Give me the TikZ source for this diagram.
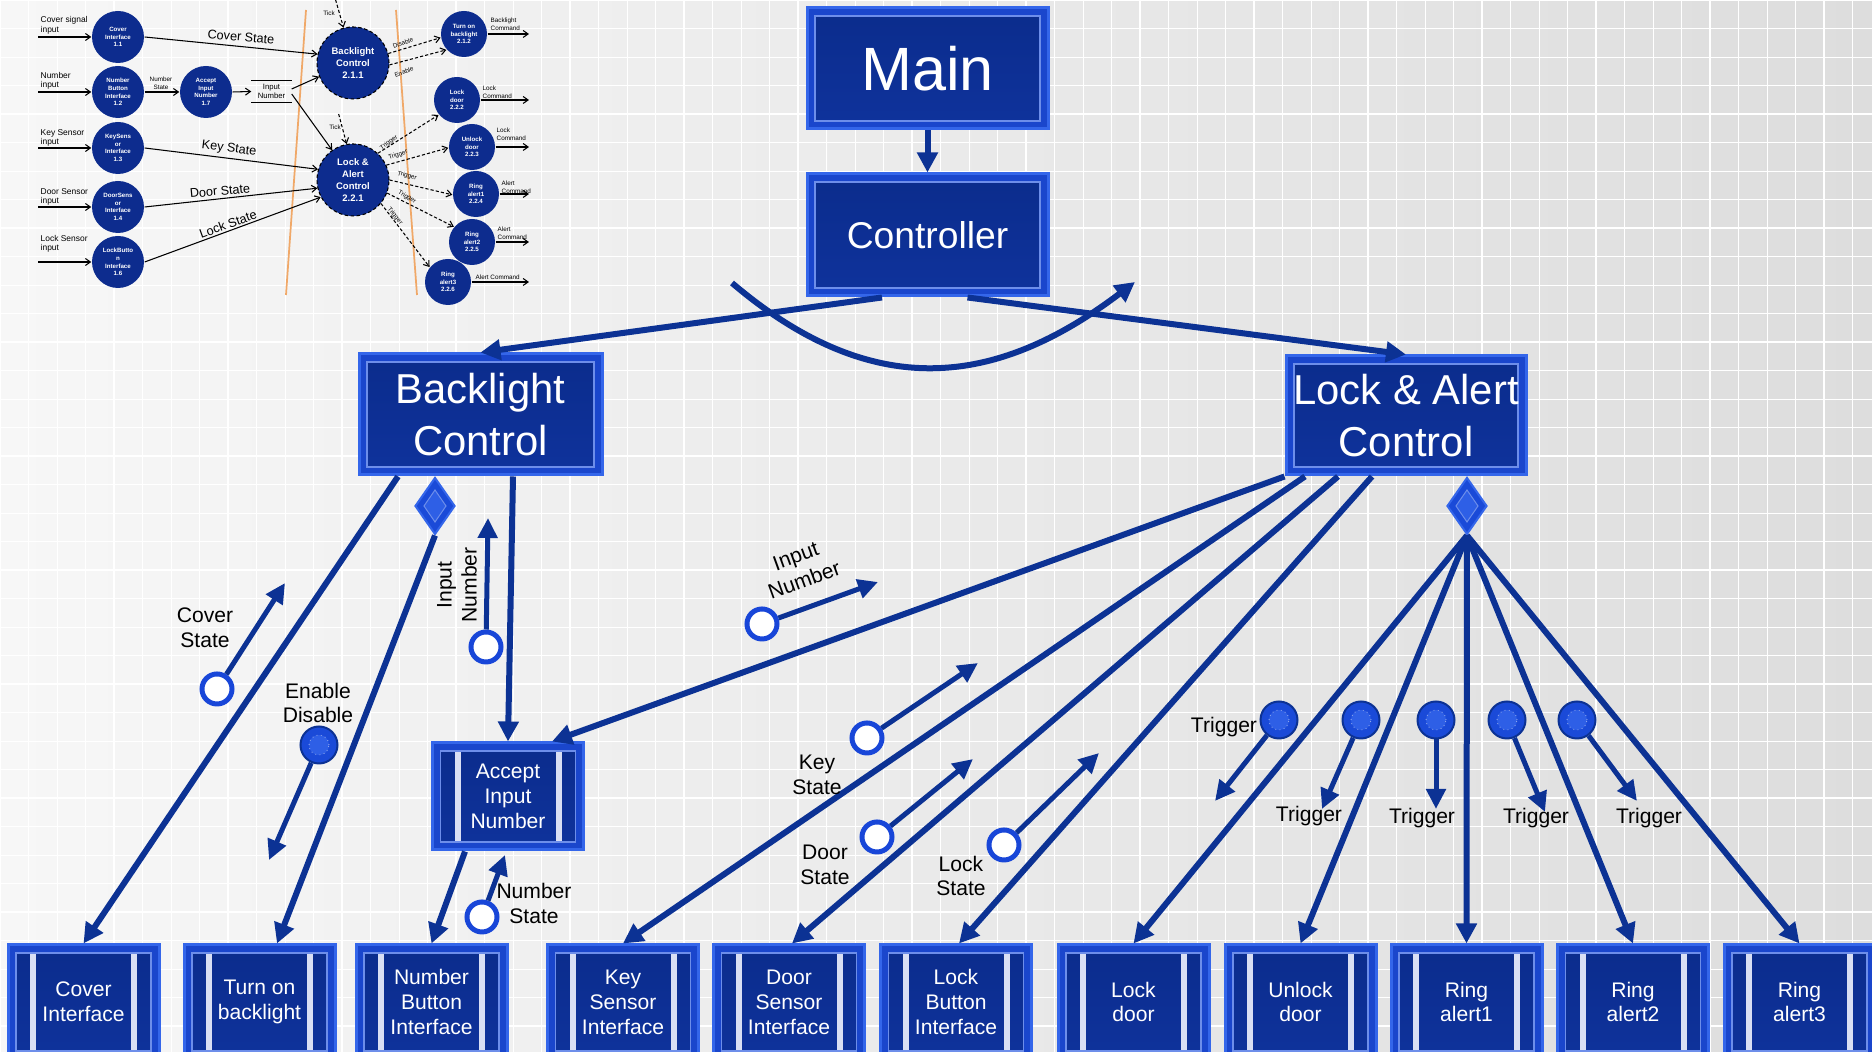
\documentclass[tikz,border=0pt]{standalone}
\usepackage{fontspec}
\setmainfont{Liberation Sans}
\usetikzlibrary{arrows.meta, shapes.geometric}
\definecolor{cwire}{HTML}{0C3294}
\definecolor{cedge}{HTML}{3466EA}
\definecolor{cbevel}{HTML}{1A46CC}
\definecolor{cdark}{HTML}{0B2C8C}
\definecolor{cinner}{HTML}{6D8EEA}
\definecolor{cbar}{HTML}{D9DFF4}
\definecolor{cring}{HTML}{1846D8}
\definecolor{cflag}{HTML}{1A4AD8}
\definecolor{cflagin}{HTML}{2E5FE6}
\definecolor{cbgl}{HTML}{F7F7F7}
\definecolor{cbgr}{HTML}{DDDDDD}
\definecolor{cnavy}{HTML}{0D2C8E}
\definecolor{corange}{HTML}{F0A868}
\newcommand{\bevelin}{\draw[cinner, line width=0.012cm, top color=cdark, bottom color=cdark!75!cbevel]
  ([shift={(0.08cm,-0.08cm)}]path picture bounding box.north west) rectangle ([shift={(-0.08cm,0.08cm)}]path picture bounding box.south east);}
\tikzset{
  bevel/.style={rectangle, draw=cedge, fill=cbevel, line width=0.03cm, text=white, align=center, inner sep=0pt, path picture={\bevelin}},
  procbox/.style={bevel, minimum width=1.51cm, minimum height=1.14cm, font=\fontsize{6}{7.1}\selectfont,
    path picture={\bevelin
      \fill[cbar] ([shift={(0.22cm,-0.09cm)}]path picture bounding box.north west) rectangle ([shift={(0.28cm,0.09cm)}]path picture bounding box.south west);
      \fill[cbar] ([shift={(-0.28cm,-0.09cm)}]path picture bounding box.north east) rectangle ([shift={(-0.22cm,0.09cm)}]path picture bounding box.south east);}},
  ringflag/.style={circle, draw=cring, fill=white, line width=0.05cm, minimum size=0.30cm, inner sep=0pt},
  ctrlflag/.style={circle, draw=cwire, fill=cflag, line width=0.02cm, minimum size=0.37cm, inner sep=0pt,
    path picture={\draw[white!60!cflag, densely dotted, line width=0.008cm, fill=cflagin] (path picture bounding box.center) circle[radius=0.1cm];}},
  dmd/.style={diamond, draw=cedge, fill=cflag, line width=0.02cm, minimum width=0.40cm, minimum height=0.57cm, inner sep=0pt,
    path picture={\draw[cinner, line width=0.01cm, fill=cflagin] ([yshift=0.16cm]path picture bounding box.center) -- ([xshift=0.11cm]path picture bounding box.center)
      -- ([yshift=-0.16cm]path picture bounding box.center) -- ([xshift=-0.11cm]path picture bounding box.center) -- cycle;}},
  wire/.style={draw=cwire, line width=0.06cm, -{Triangle[length=0.2cm, width=0.2cm]}},
  flow/.style={draw=cwire, line width=0.05cm, -{Triangle[length=0.2cm, width=0.19cm]}},
  lbl/.style={font=\fontsize{6}{7.1}\selectfont, align=center, inner sep=0pt},
}

\begin{document}
\begin{tikzpicture}[dfd/.style={circle, fill=cnavy, text=white, font=\bfseries\fontsize{1.75}{2.2}\selectfont, align=center, inner sep=0pt, minimum size=0.52cm},
  dfdbig/.style={dfd, minimum size=0.72cm, draw=black, line width=0.3pt, dash pattern=on 1pt off 0.7pt, font=\bfseries\fontsize{2.7}{3.4}\selectfont},
  dfdout/.style={dfd, minimum size=0.46cm},
  dfdarr/.style={line width=0.3pt, -{Straight Barb[length=0.05cm, width=0.07cm]}},
  dfddash/.style={dash pattern=on 0.9pt off 0.6pt},
  dfdtxt/.style={font=\fontsize{1.8}{2.2}\selectfont, inner sep=0pt, align=left},
  dfdin/.style={font=\fontsize{2.4}{2.7}\selectfont, inner sep=0pt, align=left, anchor=west},
  dfdflow/.style={font=\fontsize{3.6}{4}\selectfont, inner sep=0pt}]
  \useasboundingbox (0,0) rectangle (18.72,-10.52);
  \shade[left color=cbgl, right color=cbgr] (0,0) rectangle (18.72,-10.52);
  \draw[white, line width=0.25pt, step=0.285] (0,-10.52) grid (18.72,0);
  \draw[white, line width=0.7pt, step=1.14] (0,-10.52) grid (18.72,0);

  \foreach \n/\y/\t in {i11/-0.37/{Cover\\Interface\\1.1}, i12/-0.92/{Number\\Button\\Interface\\1.2}, i13/-1.48/{KeySens\\or\\Interface\\1.3},
                        i14/-2.07/{DoorSens\\or\\Interface\\1.4}, i16/-2.62/{LockButto\\n\\Interface\\1.6}}
    \node[dfd] (\n) at (1.18,\y) {\t};
  \node[dfd] (i17) at (2.06,-0.92) {Accept\\Input\\Number\\1.7};
  \node[dfdbig] (i211) at (3.53,-0.63) {Backlight\\Control\\2.1.1};
  \node[dfdbig] (i221) at (3.53,-1.80) {Lock \&\\Alert\\Control\\2.2.1};
  \foreach \n/\x/\y/\t in {i212/4.64/-0.34/{Turn on\\backlight\\2.1.2}, i222/4.57/-1.00/{Lock\\door\\2.2.2}, i223/4.72/-1.47/{Unlock\\door\\2.2.3},
                           i224/4.76/-1.94/{Ring\\alert1\\2.2.4}, i225/4.72/-2.42/{Ring\\alert2\\2.2.5}, i226/4.48/-2.82/{Ring\\alert3\\2.2.6}}
    \node[dfdout] (\n) at (\x,\y) {\t};
  \node[dfdtxt, align=center, font=\fontsize{2.2}{2.6}\selectfont, minimum width=0.39cm, minimum height=0.21cm] (istore) at (2.715,-0.915) {Input\\Number};
  \draw[line width=0.3pt] (istore.north west) -- (istore.north east) (istore.south west) -- (istore.south east);
  \draw[corange, line width=0.5pt] (3.06,-0.10) -- (2.86,-2.95) (3.96,-0.10) -- (4.17,-2.95);

  \foreach \n/\y/\t in {i11/-0.255/{Cover signal\\input}, i12/-0.81/{Number\\input}, i13/-1.38/{Key Sensor\\input},
                        i14/-1.97/{Door Sensor\\input}, i16/-2.44/{Lock Sensor\\input}} {
    \node[dfdin] (t\n) at (0.40,\y) {\t};
    \draw[dfdarr] ([xshift=-0.53cm]\n.west) -- (\n.west);
  }
  \draw[dfdarr] (i11.east) -- (i211.166);
  \node[dfdflow, rotate=-5] (ti11) at (2.41,-0.37) {Cover State};
  \draw[dfdarr] (i12.east) -- (i17.west);
  \node[dfdtxt, align=center] (ti12) at (1.61,-0.835) {Number\\State};
  \draw[dfdarr] (i17.east) -- (istore.west);
  \draw[dfdarr] ([yshift=0.025cm]istore.east) -- (i211.202);
  \draw[dfdarr] ([yshift=-0.025cm]istore.east) -- (i221.125);
  \draw[dfdarr] (i13.east) -- (i221.163);
  \node[dfdflow, rotate=-7] (ti13) at (2.29,-1.49) {Key State};
  \draw[dfdarr] (i14.east) -- (i221.193);
  \node[dfdflow, rotate=5] (ti14) at (2.20,-1.91) {Door State};
  \draw[dfdarr] (i16.east) -- (i221.208);
  \node[dfdflow, rotate=20] (ti16) at (2.28,-2.24) {Lock State};
  \draw[dfdarr, dfddash] ([shift={(-0.08cm,0.28cm)}]i211.105) -- (i211.105);
  \node[dfdtxt] (tk1) at (3.29,-0.13) {Tick};
  \draw[dfdarr, dfddash] ([shift={(-0.08cm,0.30cm)}]i221.100) -- (i221.100);
  \node[dfdtxt] (tk2) at (3.35,-1.27) {Tick};
  \draw[dfdarr, dfddash] (i211.15) -- (i212.189);
  \node[dfdtxt, rotate=20] (tdis) at (4.03,-0.43) {Disable};
  \draw[dfdarr, dfddash] (i211.357) -- (i212.222);
  \node[dfdtxt, rotate=20] (tena) at (4.04,-0.72) {Enable};
  \foreach \t/\a/\b/\lx/\ly/\r in {i222/47/219/3.89/-1.43/35, i223/24/182/3.98/-1.55/20, i224/0/182/4.07/-1.76/-15,
                                   i225/339/140/4.07/-1.97/-30, i226/320/141/3.95/-2.16/-50} {
    \draw[dfdarr, dfddash] (i221.\a) -- (\t.\b);
    \node[dfdtxt, rotate=\r] (tt\t) at (\lx,\ly) {Trigger};
  }
  \foreach \n/\lx/\ly/\t in {i212/4.90/-0.245/{Backlight\\Command}, i222/4.82/-0.92/{Lock\\Command}, i223/4.96/-1.345/{Lock\\Command},
                             i224/5.01/-1.87/{Alert\\Command}, i225/4.97/-2.335/{Alert\\Command}, i226/4.75/-2.77/{Alert Command}} {
    \draw[dfdarr] (\n.east) -- (\n.east -| 5.29,0);
    \node[dfdtxt, anchor=west] (c\n) at (\lx,\ly) {\t};
  }

  \node[bevel, minimum width=2.41cm, minimum height=1.21cm, font=\fontsize{17.4}{20}\selectfont] (main) at (9.275,-0.685) {Main};
  \node[bevel, minimum width=2.41cm, minimum height=1.22cm, font=\fontsize{10.6}{13}\selectfont] (ctrl) at (9.275,-2.35) {Controller};
  \node[bevel, minimum width=2.43cm, minimum height=1.21cm, font=\fontsize{11.9}{14.8}\selectfont] (bl) at (4.805,-4.145) {Backlight\\Control};
  \node[bevel, minimum width=2.40cm, minimum height=1.19cm, font=\fontsize{11.9}{14.8}\selectfont] (la) at (14.06,-4.155) {Lock \& Alert\\Control};
  \foreach \n/\x/\t in {ci/0.835/{Cover\\Interface}, tb/2.595/{Turn on\\backlight}, nb/4.315/{Number\\Button\\Interface}, ks/6.23/{Key\\Sensor\\Interface},
                        ds/7.89/{Door\\Sensor\\Interface}, lb/9.56/{Lock\\Button\\Interface}, ld/11.335/{Lock\\door}, ud/13.005/{Unlock\\door},
                        r1/14.665/{Ring\\alert1}, r2/16.33/{Ring\\alert2}, r3/17.995/{Ring\\alert3}}
    \node[procbox] (\n) at (\x,-10.02) {\t};
  \node[procbox, minimum height=1.07cm] (acc) at (5.08,-7.965) {Accept\\Input\\Number};
  \node[dmd, anchor=north] (bld) at ([xshift=-0.455cm]bl.south) {};
  \node[dmd, anchor=north] (lad) at ([xshift=0.61cm]la.south) {};

  \draw[wire] (main) -- (ctrl);
  \draw[wire] ([xshift=-0.455cm]ctrl.south) -- (bl.north);
  \draw[wire] ([xshift=0.40cm]ctrl.south) -- (la.north);
  \coordinate (loopa) at (7.32,-2.83);
  \coordinate (loopb) at (11.35,-2.82);
  \draw[wire] (loopa) .. controls (8.72,-4.02) and (9.95,-3.88) .. (loopb);
  \draw[wire] ([xshift=-0.825cm]bl.south) -- (ci.north);
  \draw[wire] (bld.south) -- ([xshift=0.175cm]tb.north);
  \draw[wire] ([xshift=0.325cm]bl.south) -- (acc.north);
  \draw[wire] ([xshift=-0.43cm]acc.south) -- (nb.north);
  \draw[wire] (la.south west) -- ([xshift=0.44cm]acc.north);
  \draw[wire] ([xshift=-1.01cm]la.south) -- (ks.north);
  \draw[wire] ([xshift=-0.68cm]la.south) -- ([xshift=0.03cm]ds.north);
  \draw[wire] ([xshift=-0.34cm]la.south) -- ([xshift=0.03cm]lb.north);
  \foreach \t in {ld,ud,r1,r2,r3} \draw[wire] (lad.south) -- (\t.north);

  \node[ringflag] (fcs) at (2.17,-6.89) {};
  \draw[flow] (fcs) -- ++(0.68,1.06);
  \node[lbl] (tcs) at (2.05,-6.28) {Cover\\State};
  \node[ctrlflag] (fed) at (3.19,-7.45) {};
  \draw[flow] (fed) -- ++(-0.50,-1.15);
  \node[lbl] (ted) at (3.18,-7.03) {Enable\\Disable};
  \node[ringflag] (fin1) at (4.86,-6.47) {};
  \draw[flow] (fin1) -- ++(0.02,1.29);
  \node[lbl, rotate=90] (tin1) at (4.57,-5.85) {Input\\Number};
  \node[ringflag] (fns) at (4.82,-9.17) {};
  \draw[flow] (fns) -- ++(0.23,0.62);
  \node[lbl] (tns) at (5.34,-9.03) {Number\\State};
  \node[ringflag] (fin2) at (7.62,-6.24) {};
  \draw[flow] (fin2) -- ++(1.16,0.42);
  \node[lbl, rotate=20] (tin2) at (8.00,-5.68) {Input\\Number};
  \foreach \n/\x/\y/\dx/\dy/\lx/\ly/\t in {kst/8.67/-7.38/1.11/0.75/8.17/-7.75/Key, dst/8.77/-8.37/0.96/0.78/8.25/-8.65/Door,
                                           lst/10.04/-8.45/0.95/0.92/9.61/-8.76/Lock} {
    \node[ringflag] (f\n) at (\x,\y) {};
    \draw[flow] (f\n) -- ++(\dx,\dy);
    \node[lbl] (t\n) at (\lx,\ly) {\t\\State};
  }
  \foreach \n/\x/\dx/\dy/\lx/\ly in {1/12.79/-0.64/-0.81/12.24/-7.27, 2/13.61/-0.39/-0.89/13.09/-8.16, 3/14.36/0/-0.89/14.22/-8.18,
                                     4/15.07/0.38/-0.92/15.36/-8.18, 5/15.77/0.60/-0.81/16.49/-8.18} {
    \node[ctrlflag] (ftr\n) at (\x,-7.20) {};
    \draw[flow] (ftr\n) -- ++(\dx,\dy);
    \node[lbl] (ttr\n) at (\lx,\ly) {Trigger};
  }
\end{tikzpicture}
\end{document}
